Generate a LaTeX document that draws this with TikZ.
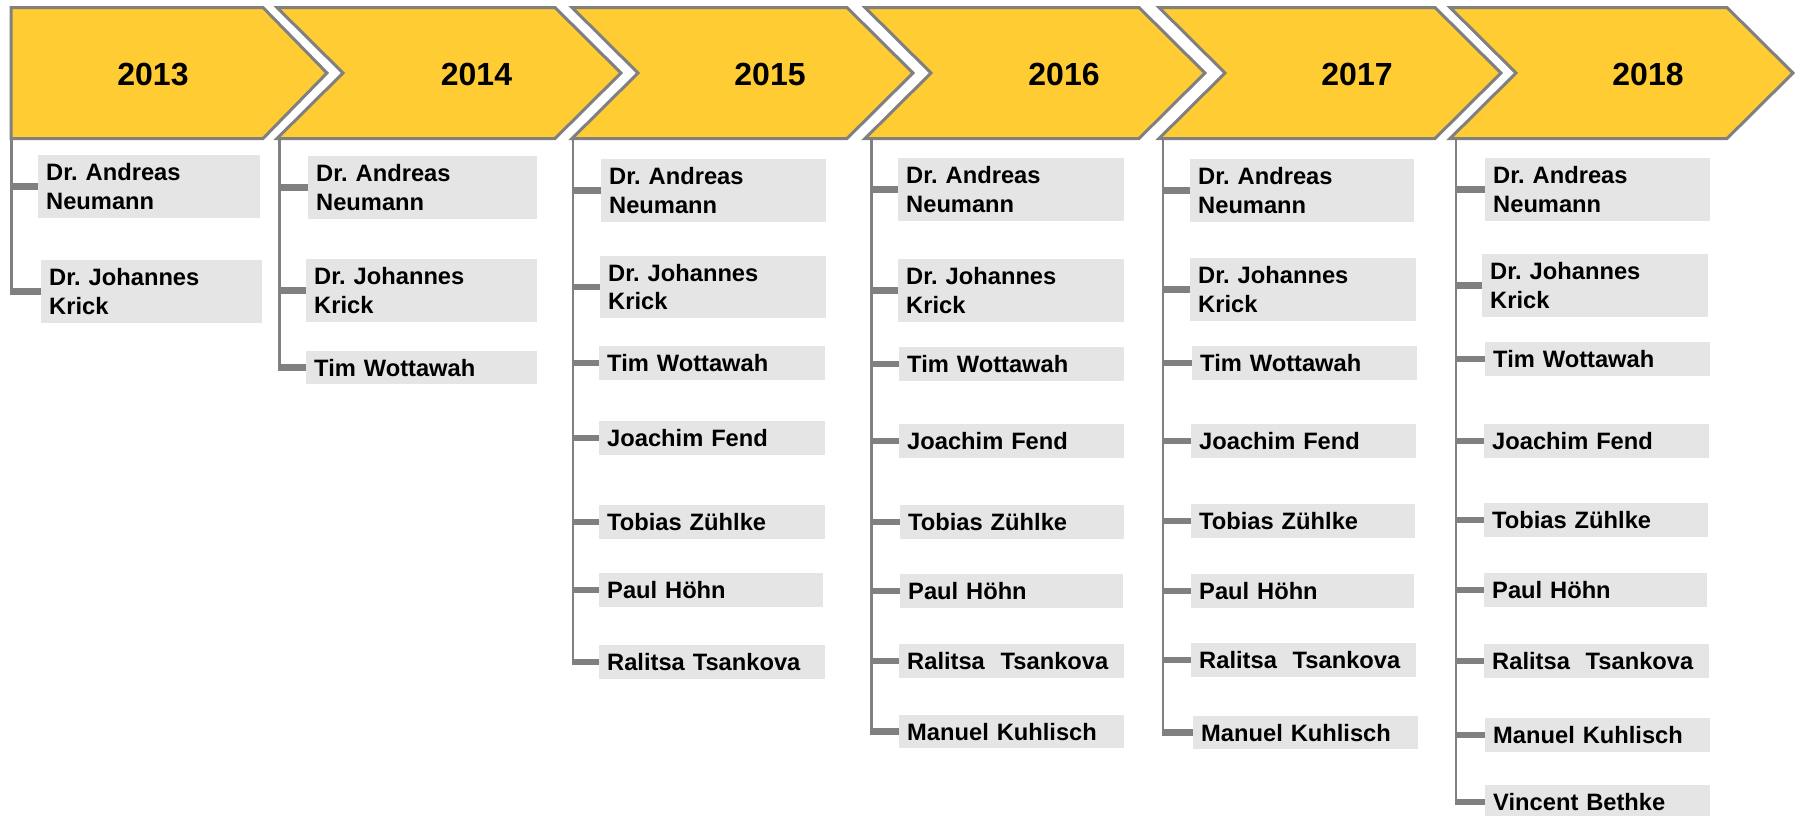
\documentclass[tikz,border=0pt]{standalone}
\usepackage{fontspec}
\setmainfont{Liberation Sans}
\frenchspacing
\definecolor{chevfill}{RGB}{255,204,51}
\definecolor{edgegray}{RGB}{128,128,128}
\definecolor{boxgray}{RGB}{229,229,229}
% one grey name box: name, x1, y1, x2, y2, text
\newcommand\member[6]{%
  \pgfmathsetmacro\boxtw{#4-#2-16}%
  \node[namebox, text width=\boxtw pt, minimum width={#4-#2}, minimum height={#5-#3}] (#1) at (#2,#3) {#6};}
\begin{document}
\begin{tikzpicture}[x=1pt,y=-1pt,
  chevron/.style={fill=chevfill, draw=edgegray, line width=3pt, line join=miter},
  yearlabel/.style={font=\fontsize{32}{36}\selectfont\bfseries, inner sep=0pt},
  namebox/.style={fill=boxgray, anchor=north west, inner xsep=8pt, inner ysep=0pt,
    align=left, font=\fontsize{23.7}{28.5}\selectfont\bfseries},
  vline/.style={draw=edgegray, line width=2.5pt},
  stub/.style={draw=edgegray, line width=6.5pt, shorten <=-1.25pt}]
\useasboundingbox (0,0) rectangle (1798,815);

% year arrows
\draw[chevron] (11,7.5) -- (263,7.5) -- (327,73) -- (263,138.5) -- (11,138.5) -- cycle;
\draw[chevron] (277,7.5) -- (555,7.5) -- (621,73) -- (555,138.5) -- (277,138.5) -- (343,73) -- cycle;
\draw[chevron] (572,7.5) -- (847,7.5) -- (913,73) -- (847,138.5) -- (572,138.5) -- (638,73) -- cycle;
\draw[chevron] (865,7.5) -- (1139,7.5) -- (1205,73) -- (1139,138.5) -- (865,138.5) -- (931,73) -- cycle;
\draw[chevron] (1159,7.5) -- (1435,7.5) -- (1501,73) -- (1435,138.5) -- (1159,138.5) -- (1225,73) -- cycle;
\draw[chevron] (1450,7.5) -- (1727,7.5) -- (1793,73) -- (1727,138.5) -- (1450,138.5) -- (1516,73) -- cycle;

\node[yearlabel] (y13) at (153,74.5) {2013};
\node[yearlabel] (y14) at (476.5,74.5) {2014};
\node[yearlabel] (y15) at (770,74.5) {2015};
\node[yearlabel] (y16) at (1064,74.5) {2016};
\node[yearlabel] (y17) at (1357,74.5) {2017};
\node[yearlabel] (y18) at (1648,74.5) {2018};

% 2013
\coordinate (t13) at (11.5,139);
\member{a13}{38}{155}{260}{218}{Dr. Andreas\\Neumann}
\member{b13}{41}{260}{262}{323}{Dr. Johannes\\Krick}

% 2014
\coordinate (t14) at (279.5,139);
\member{a14}{308}{156}{537}{219}{Dr. Andreas\\Neumann}
\member{b14}{306}{259}{537}{322}{Dr. Johannes\\Krick}
\member{c14}{306}{351}{537}{384}{Tim Wottawah}

% 2015
\coordinate (t15) at (573,139);
\member{a15}{601}{159}{826}{222}{Dr. Andreas\\Neumann}
\member{b15}{600}{256}{826}{318}{Dr. Johannes\\Krick}
\member{c15}{599}{346}{825}{380}{Tim Wottawah}
\member{d15}{599}{421}{825}{455}{Joachim Fend}
\member{e15}{599}{505}{825}{539}{Tobias Zühlke}
\member{f15}{599}{573}{823}{607}{Paul Höhn}
\member{g15}{599}{645}{825}{679}{Ralitsa Tsankova}

% 2016
\coordinate (t16) at (871.5,139);
\member{a16}{898}{158}{1124}{221}{Dr. Andreas\\Neumann}
\member{b16}{898}{259}{1124}{322}{Dr. Johannes\\Krick}
\member{c16}{899}{347}{1124}{381}{Tim Wottawah}
\member{d16}{899}{424}{1124}{458}{Joachim Fend}
\member{e16}{900}{505}{1124}{539}{Tobias Zühlke}
\member{f16}{900}{574}{1123}{608}{Paul Höhn}
\member{g16}{899}{644}{1124}{678}{Ralitsa~ Tsankova}
\member{h16}{899}{715}{1124}{748}{Manuel Kuhlisch}

% 2017
\coordinate (t17) at (1163,139);
\member{a17}{1190}{159}{1414}{222}{Dr. Andreas\\Neumann}
\member{b17}{1190}{258}{1416}{321}{Dr. Johannes\\Krick}
\member{c17}{1192}{346}{1417}{380}{Tim Wottawah}
\member{d17}{1191}{424}{1416}{458}{Joachim Fend}
\member{e17}{1191}{504}{1415}{538}{Tobias Zühlke}
\member{f17}{1191}{574}{1414}{608}{Paul Höhn}
\member{g17}{1191}{643}{1416}{677}{Ralitsa~ Tsankova}
\member{h17}{1193}{716}{1418}{749}{Manuel Kuhlisch}

% 2018
\coordinate (t18) at (1456,139);
\member{a18}{1485}{158}{1710}{221}{Dr. Andreas\\Neumann}
\member{b18}{1482}{254}{1708}{317}{Dr. Johannes\\Krick}
\member{c18}{1485}{342}{1710}{376}{Tim Wottawah}
\member{d18}{1484}{424}{1709}{458}{Joachim Fend}
\member{e18}{1484}{503}{1708}{537}{Tobias Zühlke}
\member{f18}{1484}{573}{1707}{607}{Paul Höhn}
\member{g18}{1484}{644}{1709}{678}{Ralitsa~ Tsankova}
\member{h18}{1485}{718}{1710}{752}{Manuel Kuhlisch}
\member{i18}{1485}{785}{1710}{819}{Vincent Bethke}

% connector trees
\draw[vline] (t13) -- (t13 |- b13.west);
\foreach \b in {a13,b13} \draw[stub] (\b.west -| t13) -- (\b.west);
\draw[vline] (t14) -- (t14 |- c14.west);
\foreach \b in {a14,b14,c14} \draw[stub] (\b.west -| t14) -- (\b.west);
\draw[vline] (t15) -- (t15 |- g15.west);
\foreach \b in {a15,b15,c15,d15,e15,f15,g15} \draw[stub] (\b.west -| t15) -- (\b.west);
\draw[vline] (t16) -- (t16 |- h16.west);
\foreach \b in {a16,b16,c16,d16,e16,f16,g16,h16} \draw[stub] (\b.west -| t16) -- (\b.west);
\draw[vline] (t17) -- (t17 |- h17.west);
\foreach \b in {a17,b17,c17,d17,e17,f17,g17,h17} \draw[stub] (\b.west -| t17) -- (\b.west);
\draw[vline] (t18) -- (t18 |- i18.west);
\foreach \b in {a18,b18,c18,d18,e18,f18,g18,h18,i18} \draw[stub] (\b.west -| t18) -- (\b.west);
\end{tikzpicture}
\end{document}
